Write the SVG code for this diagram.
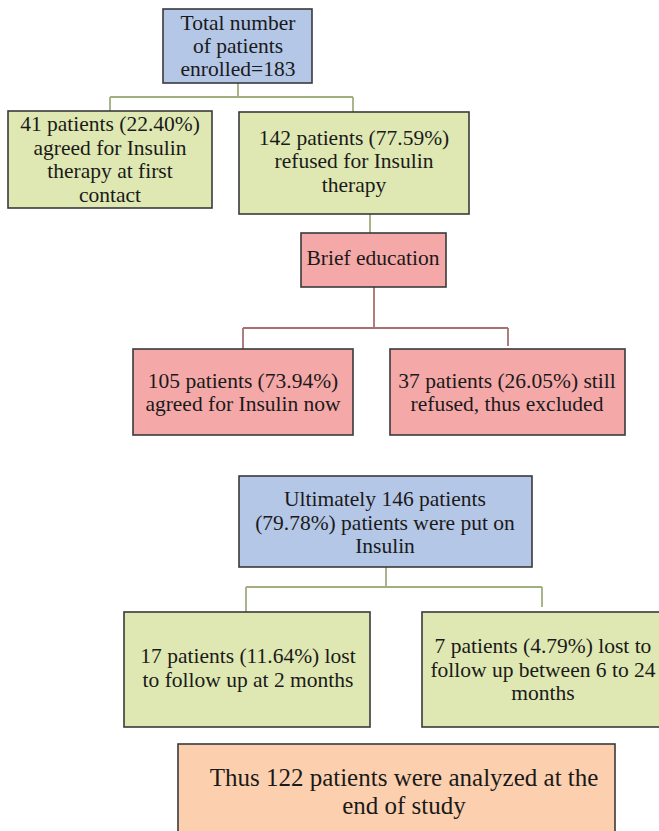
<svg xmlns="http://www.w3.org/2000/svg" width="659" height="831" viewBox="0 0 659 831">
<style>
.box{stroke:#3a3a3a;stroke-width:1.6}
.blue{fill:#b4c7e7}
.green{fill:#dfe8b2}
.pink{fill:#f5a8a8}
.orange{fill:#fcd0ae}
text{font-family:'Liberation Serif','DejaVu Serif',serif;font-size:21.5px;fill:#1a1a1a;text-anchor:middle}
.big{font-size:25px}
.cg{stroke:#a0ae80;stroke-width:1.8;fill:none}
.cp{stroke:#a87070;stroke-width:1.8;fill:none}
</style>
<rect width="659" height="831" fill="#ffffff"/>
<g id="connectors">
<path class="cg" d="M238 83V97M110 97H353M110 97V111M353 97V112"/>
<path class="cg" d="M370 214V233"/>
<path class="cp" d="M374 287V329M243 328H508M243 328V349M508 328V346"/>
<path class="cg" d="M386 567V587M246 587H542M246 587V612M542 587V607"/>
</g>
<g id="n_total">
<rect class="box blue" x="163" y="9" width="149" height="74"/>
<text x="238" y="30">Total number</text>
<text x="238" y="53">of patients</text>
<text x="238" y="76">enrolled=183</text>
</g>
<g id="n_agreed41">
<rect class="box green" x="8" y="111" width="204" height="97"/>
<text x="110" y="131">41 patients (22.40%)</text>
<text x="110" y="155">agreed for Insulin</text>
<text x="110" y="178">therapy at first</text>
<text x="110" y="202">contact</text>
</g>
<g id="n_refused142">
<rect class="box green" x="239" y="112" width="230" height="102"/>
<text x="354" y="145">142 patients (77.59%)</text>
<text x="354" y="168">refused for Insulin</text>
<text x="354" y="192">therapy</text>
</g>
<g id="n_brief">
<rect class="box pink" x="301" y="233" width="145" height="54"/>
<text x="373" y="265">Brief education</text>
</g>
<g id="n_agreed105">
<rect class="box pink" x="133" y="349" width="220" height="86"/>
<text x="243" y="388">105 patients (73.94%)</text>
<text x="243" y="411">agreed for Insulin now</text>
</g>
<g id="n_excluded37">
<rect class="box pink" x="390" y="349" width="235" height="86"/>
<text x="507" y="388">37 patients (26.05%) still</text>
<text x="507" y="411">refused, thus excluded</text>
</g>
<g id="n_ultimately">
<rect class="box blue" x="239" y="476" width="293" height="91"/>
<text x="385" y="506">Ultimately 146 patients</text>
<text x="385" y="530">(79.78%) patients were put on</text>
<text x="385" y="553">Insulin</text>
</g>
<g id="n_lost17">
<rect class="box green" x="124" y="612" width="246" height="115"/>
<text x="248" y="663">17 patients (11.64%) lost</text>
<text x="248" y="687">to follow up at 2 months</text>
</g>
<g id="n_lost7">
<rect class="box green" x="422" y="612" width="245" height="115"/>
<text x="543" y="653">7 patients (4.79%) lost to</text>
<text x="543" y="677">follow up between 6 to 24</text>
<text x="543" y="700">months</text>
</g>
<g id="n_final">
<rect class="box orange" x="178" y="744" width="437" height="100"/>
<text class="big" x="404" y="786">Thus 122 patients were analyzed at the</text>
<text class="big" x="404" y="814">end of study</text>
</g>
</svg>
